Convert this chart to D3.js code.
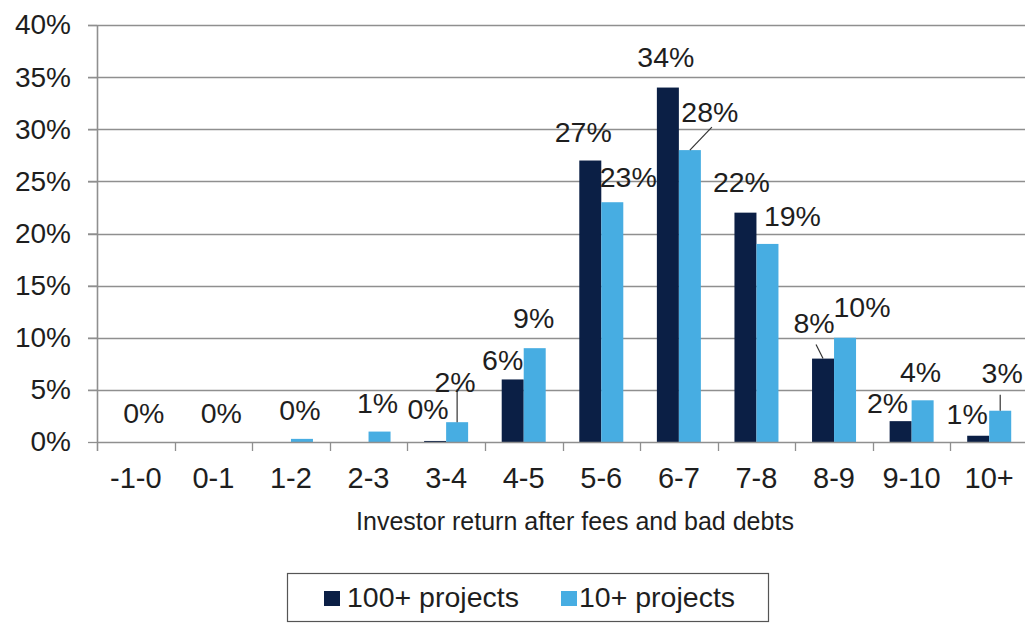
<!DOCTYPE html>
<html>
<head>
<meta charset="utf-8">
<script src="https://cdn.jsdelivr.net/npm/d3@7"></script>
<style>
  html, body { margin: 0; padding: 0; background: #fff; }
  svg { display: block; font-family: "Liberation Sans", Arial, Helvetica, sans-serif; }
</style>
</head>
<body>
<svg id="chart" width="1025" height="624"></svg>
<script>
// Return buckets (% per year) and share of loans in each bucket
const categories = ["-1-0", "0-1", "1-2", "2-3", "3-4", "4-5", "5-6", "6-7", "7-8", "8-9", "9-10", "10+"];
const projects100 = [0, 0, 0, 0, 0.1, 6, 27, 34, 22, 8, 2, 0.6];
const projects10 = [0, 0, 0.3, 1, 1.9, 9, 23, 28, 19, 10, 4, 3];
const yTicks = [0, 5, 10, 15, 20, 25, 30, 35, 40];
const seriesNames = ["100+ projects", "10+ projects"];
const xTitle = "Investor return after fees and bad debts";

const colors = ["#0b1f45", "#47ade2"];
const textColor = "#1e1e1e";
const gridColor = "#8f8f8f";

// Hand-placed value labels: offset from the default spot above each bar,
// plus an optional leader line end point (relative to the label anchor)
const labelPlacement = [
  { // 100+ projects
    4: { dx: -7, dy: -13 },
    5: { dx: -10, dy: 0 },
    6: { dx: -7, dy: -10 },
    7: { dx: -2, dy: -12 },
    8: { dx: -4, dy: -12 },
    9: { dx: -9, dy: -17, leader: [2, 12] },
    10: { dx: -13, dy: 1 },
    11: { dx: -11, dy: -3 }
  },
  { // 10+ projects
    0: { dx: -3, dy: -10 },
    1: { dx: -3, dy: -10 },
    2: { dx: -2, dy: -10 },
    3: { dx: -2, dy: -10 },
    4: { dx: -2, dy: -21, leader: [2, -3] },
    5: { dx: -1, dy: -11 },
    6: { dx: 16, dy: -6 },
    7: { dx: 20, dy: -19, leader: [2, 5] },
    8: { dx: 25, dy: -9 },
    9: { dx: 17, dy: -12 },
    10: { dx: -2, dy: -9 },
    11: { dx: 2, dy: -19, leader: [-2, 12] }
  }
];

const svg = d3.select("#chart");
const plot = { left: 97, right: 1028, top: 25, bottom: 442 };

const x = d3.scaleBand().domain(categories).range([plot.left, plot.right]).padding(0);
const y = d3.scaleLinear().domain([0, 40]).range([plot.bottom, plot.top]);
const barW = 22;

// Gridlines with short ticks left of the axis
svg.append("g")
  .selectAll("line")
  .data(yTicks.filter(d => d > 0))
  .join("line")
  .attr("x1", plot.left - 9).attr("x2", 1025)
  .attr("y1", d => Math.round(y(d)) + 0.5).attr("y2", d => Math.round(y(d)) + 0.5)
  .attr("stroke", gridColor).attr("stroke-width", 1.3);

// Y axis labels
const yAxis = svg.append("g")
  .attr("transform", `translate(${plot.left},0)`)
  .call(d3.axisLeft(y).tickValues(yTicks).tickFormat(d => d + "%").tickSize(9).tickPadding(17));
yAxis.select(".domain").remove();
yAxis.selectAll(".tick line").attr("stroke", gridColor).attr("stroke-width", 1.3);
yAxis.selectAll(".tick text")
  .attr("fill", textColor).attr("font-size", 28).attr("font-family", "Liberation Sans, Arial, sans-serif");

// Bars
const series = [projects100, projects10];
series.forEach((vals, s) => {
  svg.append("g")
    .selectAll("rect")
    .data(vals.map((v, i) => ({ v, c: categories[i] })))
    .join("rect")
    .attr("x", d => x(d.c) + x.bandwidth() / 2 - barW + s * barW)
    .attr("width", barW)
    .attr("y", d => y(d.v))
    .attr("height", d => y(0) - y(d.v))
    .attr("fill", colors[s]);
});

// X axis line and category boundary ticks
svg.append("line")
  .attr("x1", plot.left).attr("x2", 1025)
  .attr("y1", plot.bottom + 0.5).attr("y2", plot.bottom + 0.5)
  .attr("stroke", gridColor).attr("stroke-width", 1.3);
svg.append("line")
  .attr("x1", plot.left + 0.5).attr("x2", plot.left + 0.5)
  .attr("y1", plot.top).attr("y2", plot.bottom + 9)
  .attr("stroke", gridColor).attr("stroke-width", 1.6);
svg.append("g")
  .selectAll("line")
  .data(categories.slice(1))
  .join("line")
  .attr("x1", d => Math.round(x(d)) + 0.5).attr("x2", d => Math.round(x(d)) + 0.5)
  .attr("y1", plot.bottom).attr("y2", plot.bottom + 9)
  .attr("stroke", gridColor).attr("stroke-width", 1.3);

// Category labels
svg.append("g")
  .selectAll("text")
  .data(categories)
  .join("text")
  .attr("x", d => x(d) + x.bandwidth() / 2)
  .attr("y", 488)
  .attr("text-anchor", "middle")
  .attr("font-size", 29)
  .attr("fill", textColor)
  .text(d => d);

// Axis title
svg.append("text")
  .attr("x", 575).attr("y", 530)
  .attr("text-anchor", "middle")
  .attr("font-size", 25)
  .attr("fill", textColor)
  .text(xTitle);

// Value labels (rounded to whole percent) with leader lines where moved far
series.forEach((vals, s) => {
  const place = labelPlacement[s];
  const items = vals.map((v, i) => ({ v, i, p: place[i] })).filter(d => d.p);
  const g = svg.append("g");
  items.forEach(d => {
    const cx = x(categories[d.i]) + x.bandwidth() / 2 - barW / 2 + s * barW;
    const top = y(d.v);
    const lx = cx + d.p.dx;
    const ly = top - 9 + d.p.dy;
    if (d.p.leader) {
      g.append("line")
        .attr("x1", cx).attr("y1", top)
        .attr("x2", lx + d.p.leader[0]).attr("y2", ly + d.p.leader[1])
        .attr("stroke", "#333").attr("stroke-width", 1.2);
    }
    g.append("text")
      .attr("x", lx).attr("y", ly)
      .attr("text-anchor", "middle")
      .attr("font-size", 28.5)
      .attr("fill", textColor)
      .text(Math.round(d.v) + "%");
  });
});

// Legend
const legend = svg.append("g");
legend.append("rect")
  .attr("x", 287.5).attr("y", 573.5).attr("width", 481).attr("height", 48)
  .attr("fill", "#fff").attr("stroke", "#555").attr("stroke-width", 1.2);
const legendItems = [
  { x: 324, tx: 347 },
  { x: 561, tx: 579 }
];
seriesNames.forEach((name, s) => {
  legend.append("rect")
    .attr("x", legendItems[s].x).attr("y", 591)
    .attr("width", 16).attr("height", 15)
    .attr("fill", colors[s]);
  legend.append("text")
    .attr("x", legendItems[s].tx).attr("y", 607)
    .attr("font-size", 28.5)
    .attr("fill", textColor)
    .text(name);
});
</script>
</body>
</html>
